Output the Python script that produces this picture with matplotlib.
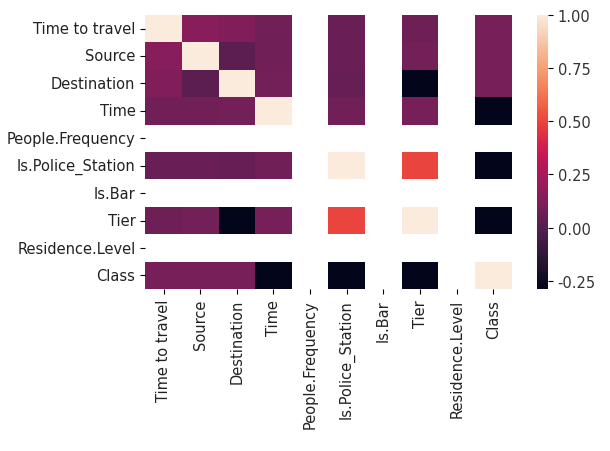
import numpy as np
import pandas as pd
import matplotlib
matplotlib.use("Agg")
import matplotlib.pyplot as plt
from matplotlib.ticker import FormatStrFormatter
import seaborn as sns

features = ["Time to travel", "Source", "Destination", "Time", "People.Frequency",
            "Is.Police_Station", "Is.Bar", "Tier", "Residence.Level", "Class"]

nan = np.nan
# Pairwise correlations (lower triangle incl. diagonal); constant columns give NaN
row_time_to_travel = [1.00]
row_source = [0.15, 1.00]
row_destination = [0.13, 0.02, 1.00]
row_time = [0.08, 0.08, 0.09, 1.00]
row_people_frequency = [nan, nan, nan, nan, nan]
row_is_police_station = [0.06, 0.06, 0.05, 0.08, nan, 1.00]
row_is_bar = [nan, nan, nan, nan, nan, nan, nan]
row_tier = [0.07, 0.09, -0.29, 0.10, nan, 0.50, nan, 1.00]
row_residence_level = [nan, nan, nan, nan, nan, nan, nan, nan, nan]
row_class = [0.10, 0.10, 0.10, -0.29, nan, -0.29, nan, -0.29, nan, 1.00]

rows = [row_time_to_travel, row_source, row_destination, row_time, row_people_frequency,
        row_is_police_station, row_is_bar, row_tier, row_residence_level, row_class]

cbar_ticks = [-0.25, 0.00, 0.25, 0.50, 0.75, 1.00]

n = len(features)
mat = np.full((n, n), np.nan)
for i, r in enumerate(rows):
    for j, v in enumerate(r):
        mat[i, j] = v
        mat[j, i] = v
corr = pd.DataFrame(mat, index=features, columns=features)

fig = plt.figure(figsize=(6.10, 4.52), dpi=100)
ax = fig.add_axes([0.238, 0.358, 0.601, 0.607])
cax = fig.add_axes([0.880, 0.358, 0.018, 0.607])

sns.heatmap(corr, ax=ax, cbar_ax=cax)

ax.set_xticklabels(features, rotation=90, fontsize=10.5, color="#222222")
ax.set_yticklabels(features, rotation=0, fontsize=10.5, color="#222222")
cax.set_yticks(cbar_ticks)
cax.yaxis.set_major_formatter(FormatStrFormatter("%.2f"))
cax.tick_params(labelsize=10.5, labelcolor="#333333")

fig.savefig("out.png", dpi=100)
